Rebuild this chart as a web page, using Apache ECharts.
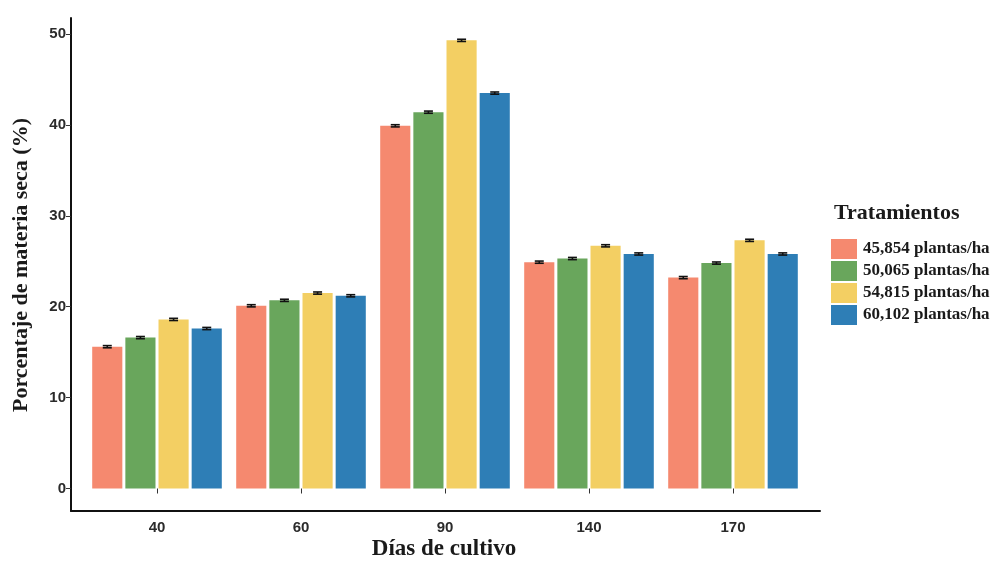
<!DOCTYPE html>
<html>
<head>
<meta charset="utf-8">
<script src="https://cdn.jsdelivr.net/npm/echarts@6/dist/echarts.min.js"></script>
<style>html,body{margin:0;padding:0;background:#fff;}#c{width:999px;height:562px;}</style>
</head>
<body>
<div id="c"></div>
<script>
const categories = ['40', '60', '90', '140', '170'];
const seriesNames = ['45,854 plantas/ha', '50,065 plantas/ha', '54,815 plantas/ha', '60,102 plantas/ha'];
const s45854 = [15.6, 20.1, 39.9, 24.9, 23.2];
const s50065 = [16.6, 20.7, 41.4, 25.3, 24.8];
const s54815 = [18.6, 21.5, 49.3, 26.7, 27.3];
const s60102 = [17.6, 21.2, 43.5, 25.8, 25.8];
const err45854 = [0.12, 0.12, 0.12, 0.12, 0.12];
const err50065 = [0.12, 0.12, 0.12, 0.12, 0.12];
const err54815 = [0.12, 0.12, 0.12, 0.12, 0.12];
const err60102 = [0.12, 0.12, 0.12, 0.12, 0.12];
const yTicks = [0, 10, 20, 30, 40, 50];
const colors = ['#F5896F', '#69A65C', '#F3CF63', '#2E7EB6'];

const values = [s45854, s50065, s54815, s60102];
const errors = [err45854, err50065, err54815, err60102];

const Y_MIN = -2.475, Y_MAX = 51.76;
const chart = echarts.init(document.getElementById('c'));

const errData = [];
values.forEach((arr, si) => arr.forEach((v, ci) => errData.push([ci, v, errors[si][ci], si])));

const barSeries = values.map((arr, i) => ({
  name: seriesNames[i], type: 'bar', xAxisIndex: 1, yAxisIndex: 1,
  data: arr, itemStyle: { color: colors[i] },
  barCategoryGap: '10%', barGap: '10%', silent: true
}));

chart.setOption({
  animation: false,
  color: colors,
  grid: [
    { left: 71, right: 179, top: 18, bottom: 51 },
    { left: 85, right: 194, top: 18, bottom: 51 }
  ],
  xAxis: [
    { gridIndex: 0, type: 'value', min: 0, max: 1, axisLine: { show: true, onZero: false, lineStyle: { color: '#111', width: 2 } },
      axisTick: { show: false }, axisLabel: { show: false }, splitLine: { show: false } },
    { gridIndex: 1, type: 'category', data: categories, boundaryGap: true,
      axisLine: { show: false }, axisTick: { show: true, alignWithLabel: true, length: 5, lineStyle: { color: '#333', width: 1 } },
      axisLabel: { margin: 9, color: '#2b2b2b', fontFamily: 'Liberation Sans, Arial, sans-serif', fontWeight: 'bold', fontSize: 15 },
      splitLine: { show: false } }
  ],
  yAxis: [
    { gridIndex: 0, type: 'value', min: Y_MIN, max: Y_MAX,
      axisLine: { show: true, onZero: false, lineStyle: { color: '#111', width: 2 } },
      axisTick: { show: true, length: 5, customValues: yTicks, lineStyle: { color: '#333' } },
      axisLabel: { customValues: yTicks, margin: 5, color: '#2b2b2b', fontFamily: 'Liberation Sans, Arial, sans-serif', fontWeight: 'bold', fontSize: 15 },
      splitLine: { show: false } },
    { gridIndex: 1, type: 'value', min: Y_MIN, max: Y_MAX, show: false, splitLine: { show: false } }
  ],
  legend: {
    orient: 'vertical', left: 826, top: 234, itemWidth: 26, itemHeight: 20, itemGap: 2, icon: 'rect',
    data: seriesNames,
    textStyle: { fontFamily: 'Liberation Serif, Times New Roman, serif', fontWeight: 'bold', fontSize: 17, color: '#1a1a1a', padding: [0, 0, 0, 1] }
  },
  graphic: [
    { type: 'text', left: 834, top: 202, style: { text: 'Tratamientos', font: 'bold 22px "Liberation Serif", serif', fill: '#1a1a1a' } },
    { type: 'text', x: 21, y: 265, rotation: Math.PI / 2,
      style: { text: 'Porcentaje de materia seca (%)', font: 'bold 22px "Liberation Serif", serif', fill: '#1a1a1a', textAlign: 'center', textVerticalAlign: 'middle' } },
    { type: 'text', x: 444, y: 549,
      style: { text: 'Días de cultivo', font: 'bold 23px "Liberation Serif", serif', fill: '#1a1a1a', textAlign: 'center', textVerticalAlign: 'middle' } }
  ],
  series: barSeries.concat([{
    type: 'custom', xAxisIndex: 1, yAxisIndex: 1, silent: true, z: 10,
    data: errData,
    renderItem: function (params, api) {
      const ci = api.value(0), v = api.value(1), e = api.value(2), si = api.value(3);
      const band = api.size([1, 0])[0];
      const w = band * 0.9 / 4.3, g = w * 0.1;
      const c = api.coord([ci, v]);
      const x = c[0] - band * 0.45 + w / 2 + si * (w + g);
      const top = api.coord([ci, v + e])[1], bot = api.coord([ci, v - e])[1];
      const hw = 4.5;
      const st = { stroke: '#111', lineWidth: 1.6 };
      return { type: 'group', children: [
        { type: 'line', shape: { x1: x, y1: top, x2: x, y2: bot }, style: st },
        { type: 'line', shape: { x1: x - hw, y1: top, x2: x + hw, y2: top }, style: st },
        { type: 'line', shape: { x1: x - hw, y1: bot, x2: x + hw, y2: bot }, style: st }
      ] };
    }
  }])
});
</script>
</body>
</html>
